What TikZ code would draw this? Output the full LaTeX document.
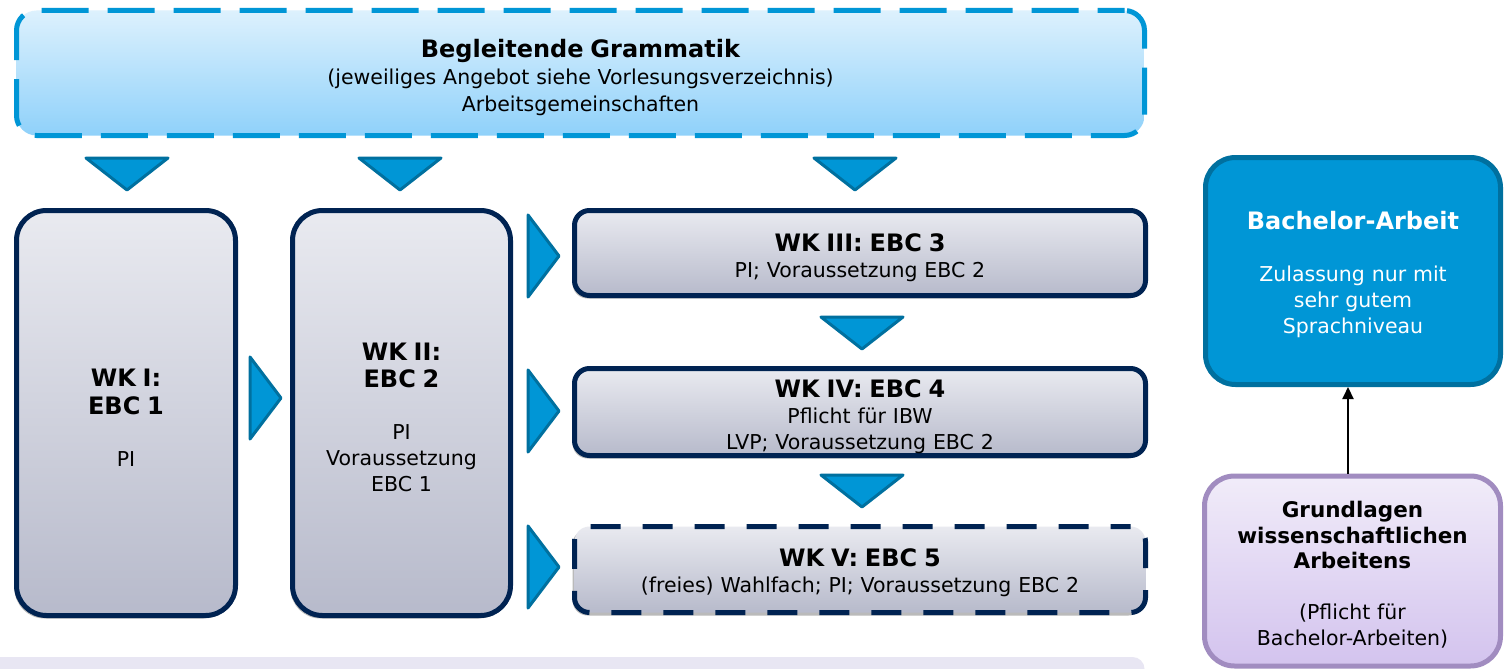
\documentclass[tikz,border=0pt]{standalone}
\usepackage{fontspec}
\setmainfont{DejaVu Sans}
\usetikzlibrary{arrows.meta,shadows}
\definecolor{blu}{HTML}{0096D6}
\definecolor{bluD}{HTML}{00709F}
\definecolor{navy}{HTML}{002352}
\definecolor{gtop}{HTML}{E9EAF0}
\definecolor{gbot}{HTML}{B7BACB}
\definecolor{ltop}{HTML}{DDF1FD}
\definecolor{lbot}{HTML}{8FD1FA}
\definecolor{ptop}{HTML}{F1ECF9}
\definecolor{pbot}{HTML}{D3C3EE}
\definecolor{pbord}{HTML}{A18CC0}
\definecolor{strip}{HTML}{E8E6F3}
\newcommand\tridown[2]{\draw[tri] ({#1-41},#2) -- ({#1+41},#2) -- (#1,{#2+32}) -- cycle;}
\newcommand\triright[2]{\draw[tri] (#1,{#2-41}) -- ({#1+31},#2) -- (#1,{#2+41}) -- cycle;}
\newcommand\bigb{\fontsize{24}{27.5}\selectfont\bfseries}
\begin{document}
\begin{tikzpicture}[x=1pt,y=-1pt,
  txt/.style={font=\fontsize{20.5}{26}\selectfont, align=center, inner sep=0pt},
  gbox/.style={draw=navy, line width=5pt, top color=gtop, bottom color=gbot, inner sep=0pt,
    drop shadow={shadow xshift=-2pt, shadow yshift=-3pt, fill=black!45, opacity=.6}},
  tri/.style={fill=blu, draw=bluD, line width=3pt, line join=round}]
\useasboundingbox (0,0) rectangle (1505,669);
\clip (0,0) rectangle (1505,669);
\fill[white] (0,0) rectangle (1505,669);

% boxes
\node[draw=blu, line width=5pt, dash pattern=on 47pt off 19pt, dash phase=20pt,
  top color=ltop, bottom color=lbot, rounded corners=20pt, minimum width=1128pt, minimum height=125pt, inner sep=0pt]
  (gram) at (580.5,73) {};
\node[fill=strip, rounded corners=12pt, minimum width=1165pt, minimum height=40pt, inner sep=0pt] (strip) at (562,677) {};
\node[gbox, rounded corners=30pt, minimum width=219pt, minimum height=405pt] (wk1) at (126,413) {};
\node[gbox, rounded corners=30pt, minimum width=218pt, minimum height=405pt] (wk2) at (401.5,413) {};
\node[gbox, rounded corners=15pt, minimum width=571pt, minimum height=85pt] (wk3) at (860,253) {};
\node[gbox, rounded corners=15pt, minimum width=571pt, minimum height=87pt] (wk4) at (860,412) {};
\node[gbox, dash pattern=on 30pt off 22pt, dash phase=10pt, rounded corners=15pt, minimum width=571pt, minimum height=86pt] (wk5) at (860,569.5) {};
\node[fill=blu, draw=bluD, line width=5pt, rounded corners=30pt, minimum width=295pt, minimum height=227pt, inner sep=0pt] (ba) at (1353,271) {};
\node[draw=pbord, line width=5pt, top color=ptop, bottom color=pbot, rounded corners=30pt, minimum width=296pt, minimum height=190pt, inner sep=0pt] (gwa) at (1352.5,571) {};

% texts
\node[txt, font=\fontsize{20.5}{27}\selectfont, text width=1100pt] (gramt) at ([yshift=-4.5pt]gram.center)
  {{\bigb Begleitende Grammatik}\\(jeweiliges Angebot siehe Vorlesungsverzeichnis)\\Arbeitsgemeinschaften};
\node[txt, text width=210pt] (wk1t) at ([yshift=-4.5pt]wk1.center) {{\bigb WK I:\\EBC 1\par}\vspace{26pt}PI};
\node[txt, text width=210pt] (wk2t) at ([yshift=-4.5pt]wk2.center) {{\bigb WK II:\\EBC 2\par}\vspace{26pt}PI\\Voraussetzung\\EBC 1};
\node[txt, text width=550pt] (wk3t) at ([yshift=-4.5pt]wk3.center) {{\bigb WK III: EBC 3}\\PI; Voraussetzung EBC 2};
\node[txt, text width=550pt] (wk4t) at ([yshift=-4.5pt]wk4.center) {{\bigb WK IV: EBC 4}\\Pflicht für IBW\\LVP; Voraussetzung EBC 2};
\node[txt, text width=550pt] (wk5t) at ([yshift=-3.5pt]wk5.center) {{\bigb WK V: EBC 5}\\(freies) Wahlfach; PI; Voraussetzung EBC 2};
\node[txt, text width=290pt, text=white] (bat) at ([yshift=-4pt]ba.center) {{\bigb Bachelor-Arbeit\par}\vspace{26pt}Zulassung nur mit\\sehr gutem\\Sprachniveau};
\node[txt, text width=290pt] (gwat) at ([yshift=-4pt]gwa.center) {{\fontsize{21.5}{25.5}\selectfont\bfseries Grundlagen\\wissenschaftlichen\\Arbeitens\par}\vspace{25pt}(Pflicht für\\Bachelor-Arbeiten)};

\coordinate (arrbot) at ([xshift=-4.5pt]gwa.north);
\draw[line width=2pt, -{Triangle[length=12pt,width=11pt]}] (arrbot) -- (arrbot |- ba.south);

\tridown{127}{158}
\tridown{400}{158}
\tridown{855}{158}
\tridown{862}{317}
\tridown{862}{475}
\triright{250}{398}
\triright{528}{256}
\triright{528}{411}
\triright{528}{567}
\end{tikzpicture}
\end{document}
